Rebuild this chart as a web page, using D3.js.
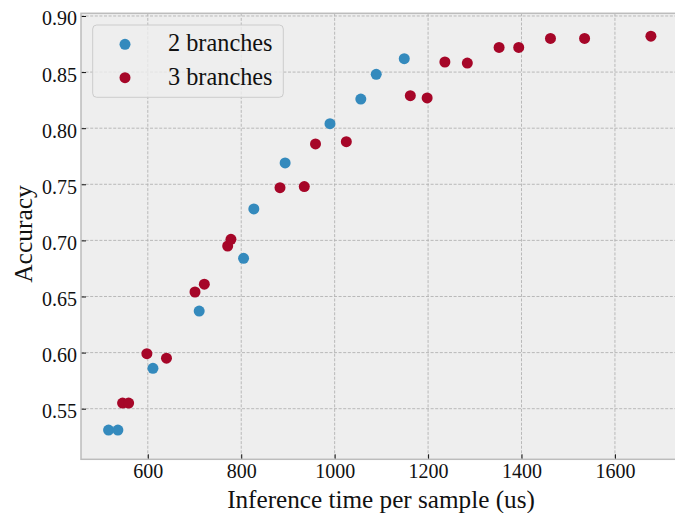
<!DOCTYPE html>
<html>
<head>
<meta charset="utf-8">
<script src="https://cdn.jsdelivr.net/npm/d3@7"></script>
<style>
  html, body { margin: 0; padding: 0; background: #ffffff; }
  svg { display: block; }
  text { font-family: "Liberation Serif", "DejaVu Serif", serif; fill: #111; }
</style>
</head>
<body>
<svg id="chart" width="675" height="513"></svg>
<script>
// ---- data ----
const series = ["2 branches", "3 branches"];
const colors = ["#348ABD", "#A60628"];
const twoBranchTime = [516, 536, 611, 710, 805, 827, 894, 990, 1056, 1089, 1149];
const twoBranchAcc  = [0.531, 0.531, 0.586, 0.637, 0.684, 0.728, 0.769, 0.804, 0.826, 0.848, 0.862];
const threeBranchTime = [546, 559, 598, 640, 701, 721, 771, 778, 883, 935, 959, 1025, 1162, 1198, 1236, 1284, 1352, 1394, 1462, 1535, 1677];
const threeBranchAcc  = [0.555, 0.555, 0.599, 0.595, 0.654, 0.661, 0.695, 0.701, 0.747, 0.748, 0.786, 0.788, 0.829, 0.827, 0.859, 0.858, 0.872, 0.872, 0.880, 0.880, 0.882];
const xTicks = [600, 800, 1000, 1200, 1400, 1600];
const yTicks = [0.55, 0.60, 0.65, 0.70, 0.75, 0.80, 0.85, 0.90];
const xLabel = "Inference time per sample (us)";
const yLabel = "Accuracy";

// ---- layout ----
const svg = d3.select("#chart");
const pLeft = 81, pRight = 678, pTop = 13.3, pBottom = 459.3;
const x = d3.scaleLinear().domain([457, 1735]).range([pLeft, pRight]);
const y = d3.scaleLinear().domain([0.5049, 0.9024]).range([pBottom, pTop]);

// background
svg.append("rect").attr("x", pLeft).attr("y", pTop)
  .attr("width", pRight - pLeft).attr("height", pBottom - pTop)
  .attr("fill", "#eeeeee");

// grid
const grid = svg.append("g");
grid.selectAll(".gx").data(xTicks).join("line")
  .attr("x1", d => x(d)).attr("x2", d => x(d))
  .attr("y1", pTop).attr("y2", pBottom)
  .attr("stroke", "#b2b2b2").attr("stroke-width", 0.9).attr("stroke-dasharray", "3,1.6");
grid.selectAll(".gy").data(yTicks).join("line")
  .attr("x1", pLeft).attr("x2", pRight)
  .attr("y1", d => y(d)).attr("y2", d => y(d))
  .attr("stroke", "#b2b2b2").attr("stroke-width", 0.9).attr("stroke-dasharray", "3,1.6");

// axes via d3 (inward ticks)
const xAxis = d3.axisBottom(x).tickValues(xTicks).tickFormat(d3.format("d"))
  .tickSizeInner(-5).tickSizeOuter(0).tickPadding(5);
const gx = svg.append("g").attr("transform", `translate(0,${pBottom})`).call(xAxis);
gx.select(".domain").remove();
gx.selectAll(".tick line").attr("stroke", "#111").attr("stroke-width", 1);
gx.selectAll(".tick text").attr("font-size", 20).attr("fill", "#111");

const yAxis = d3.axisLeft(y).tickValues(yTicks).tickFormat(d3.format(".2f"))
  .tickSizeInner(-5).tickSizeOuter(0).tickPadding(4);
const gy = svg.append("g").attr("transform", `translate(${pLeft},0)`).call(yAxis);
gy.select(".domain").remove();
gy.selectAll(".tick line").attr("stroke", "#111").attr("stroke-width", 1);
gy.selectAll(".tick text").attr("font-size", 20).attr("dy", "9px").attr("fill", "#111");

// spines
svg.append("rect").attr("x", pLeft).attr("y", pTop)
  .attr("width", pRight - pLeft).attr("height", pBottom - pTop)
  .attr("fill", "none").attr("stroke", "#bcbcbc").attr("stroke-width", 1.5);

// points
const data2 = twoBranchTime.map((t, i) => ({t, a: twoBranchAcc[i]}));
const data3 = threeBranchTime.map((t, i) => ({t, a: threeBranchAcc[i]}));
[data2, data3].forEach((ds, k) => {
  svg.append("g").selectAll("circle").data(ds).join("circle")
    .attr("cx", d => x(d.t)).attr("cy", d => y(d.a)).attr("r", 5.5)
    .attr("fill", colors[k]);
});

// axis labels
svg.append("text").attr("x", 381).attr("y", 508)
  .attr("text-anchor", "middle").attr("font-size", 25.2).text(xLabel);
svg.append("text").attr("transform", `translate(32,234) rotate(-90)`)
  .attr("text-anchor", "middle").attr("font-size", 25.5).text(yLabel);

// legend
const lg = svg.append("g");
lg.append("rect").attr("x", 92.7).attr("y", 25).attr("width", 190.6).attr("height", 72.3)
  .attr("rx", 4).attr("fill", "#eeeeee").attr("fill-opacity", 0.8)
  .attr("stroke", "#cccccc").attr("stroke-width", 1);
series.forEach((s, i) => {
  const cy = 44.3 + i * 33.4;
  lg.append("circle").attr("cx", 125).attr("cy", cy).attr("r", 5.5).attr("fill", colors[i]);
  lg.append("text").attr("x", 168).attr("y", cy + 7).attr("font-size", 24.3).text(s);
});
</script>
</body>
</html>
